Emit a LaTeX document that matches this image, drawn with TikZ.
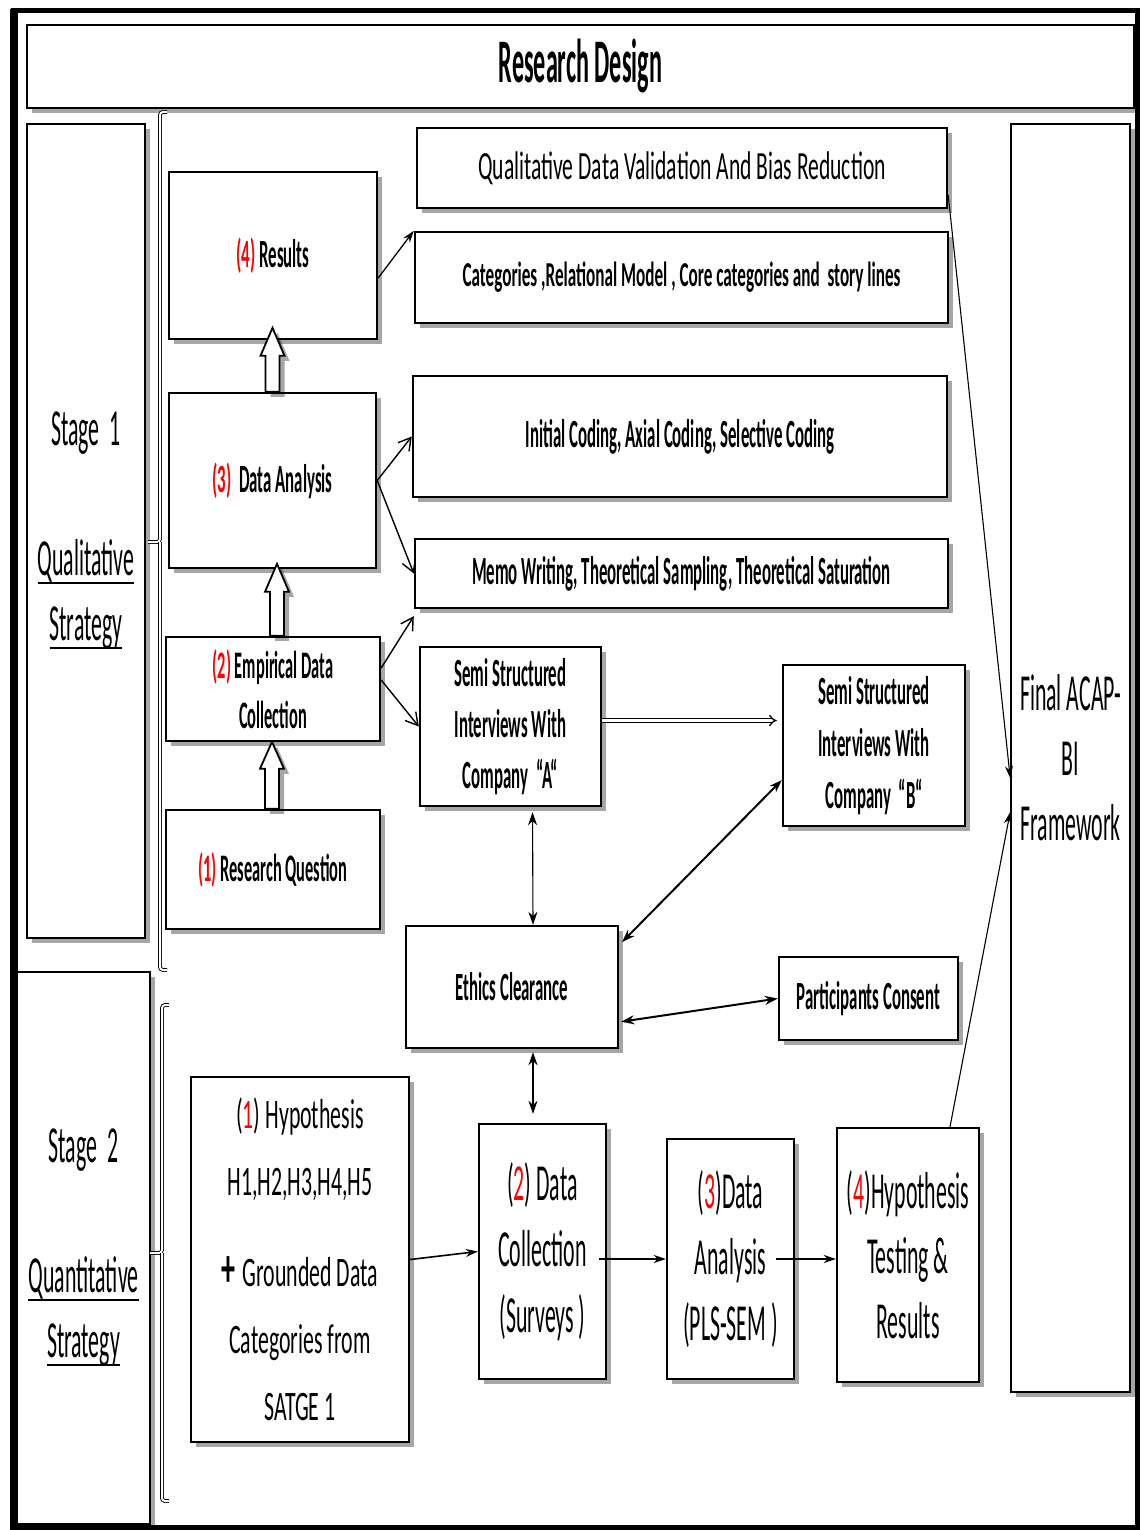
\documentclass[tikz,border=0pt]{standalone}
\usepackage{fontspec}
\setmainfont{Carlito}
\newfontfamily\fA[FakeStretch=0.42]{Carlito}
\newfontfamily\fB[FakeStretch=0.39]{Carlito}
\newfontfamily\fC[FakeStretch=0.54]{Carlito}
\newfontfamily\fD[FakeStretch=0.49]{Carlito}
\newfontfamily\fE[FakeStretch=0.52]{Carlito}
\usetikzlibrary{arrows.meta,shadows,calc}
\newcommand\sz[2]{\fontsize{#1}{#2}\selectfont}
\newsavebox\ulbox
\newcommand\myul[1]{\sbox\ulbox{#1}\leavevmode\rlap{\rule[-8pt]{\wd\ulbox}{2pt}}\usebox\ulbox}
\newcommand\rd[1]{\textcolor{red}{#1}}
\begin{document}
\begin{tikzpicture}[x=1pt,y=-1pt,
  shd/.style={drop shadow={shadow xshift=5pt,shadow yshift=-5pt,opacity=0.35,fill=black}},
  bx/.style={draw,line width=2.4pt,fill=white,inner sep=0pt,align=center,shd},
  blk/.style={draw,line width=1.8pt,fill=white,shd},
  opn/.style={line width=1.4pt,-{Straight Barb[length=12pt,width=14pt,line width=1.4pt]}},
  fil/.style={line width=1.3pt,-{Stealth[length=12pt,width=8pt]}},
  bfil/.style={line width=1.4pt,{Stealth[length=13pt,width=9pt]}-{Stealth[length=13pt,width=9pt]}},
  brc/.style={line width=0.9pt,double=white,double distance=2pt,rounded corners=3pt}]
\useasboundingbox (0,0) rectangle (1141,1530);
\fill[white] (0,0) rectangle (1141,1530);
% outer frame
\draw[line width=5pt] (13,11) rectangle (1137,1527);
\draw[line width=8pt] (14,9) -- (14,1530);

% title
\node[bx,minimum width=1107,minimum height=83,font=\fB\bfseries\sz{62}{62}] (title) at (580.5,66.5) {Research Design};

% stage boxes
\node[bx,line width=2pt,minimum width=118,minimum height=814,font=\fA\sz{52}{65}] (st1) at (86,531)
  {\rule{0pt}{6pt}Stage\ \ 1\\[65pt]\myul{Qualitative}\\\myul{Strategy}};
\node[bx,line width=2pt,minimum width=133,minimum height=552,font=\fA\sz{52}{65}] (st2) at (83.5,1248)
  {\rule{0pt}{6pt}Stage\ \ 2\\[65pt]\myul{Quantitative}\\\myul{Strategy}};
\node[bx,line width=1.6pt,minimum width=119,minimum height=1268,font=\fA\sz{52}{65}] (fin) at (1070.5,758)
  {Final ACAP-\\BI\\Framework};

% braces
\draw[brc] (167,112) -- (160,112) -- (160,542) -- (148,542);
\draw[brc] (160,542) -- (160,970) -- (167,970);
\draw[brc] (169,1005) -- (162,1005) -- (162,1253) -- (150,1253);
\draw[brc] (162,1253) -- (162,1501) -- (169,1501);

% stage 1 left column
\node[bx,minimum width=208,minimum height=167,font=\fA\bfseries\sz{40}{50}] (res) at (273,255.5) {\rd{(4)} Results};
\node[bx,minimum width=207,minimum height=175,font=\fA\bfseries\sz{40}{50}] (da) at (272.5,480.5) {\rd{(3)}\ \ Data Analysis};
\node[bx,minimum width=214,minimum height=104,font=\fA\bfseries\sz{39}{50}] (edc) at (273,689) {\rd{(2)} Empirical Data\\Collection};
\node[bx,minimum width=214,minimum height=119,font=\fA\bfseries\sz{39}{50}] (rq) at (273,869.5) {\rd{(1)} Research Question};

% stage 1 right boxes
\node[bx,minimum width=530,minimum height=80,font=\fC\sz{40}{40}] (qdv) at (682,168) {Qualitative Data Validation And Bias Reduction};
\node[bx,minimum width=533,minimum height=91,font=\fD\bfseries\sz{35}{40}] (cat) at (681.5,277.5) {Categories ,Relational Model , Core categories and\ \ story lines};
\node[bx,minimum width=534,minimum height=121,font=\fA\bfseries\sz{40}{40}] (ic) at (680,436.5) {Initial Coding, Axial Coding, Selective Coding};
\node[bx,minimum width=533,minimum height=69,font=\fA\bfseries\sz{40}{40}] (memo) at (681.5,573.5) {Memo Writing, Theoretical Sampling, Theoretical Saturation};
\node[bx,minimum width=181,minimum height=159,font=\fA\bfseries\sz{40}{51}] (sa) at (510.5,726.5) {Semi Structured\\Interviews With\\Company\ \ “A“};
\node[bx,minimum width=182,minimum height=161,font=\fA\bfseries\sz{40}{52}] (sb) at (874,745.5) {Semi Structured\\Interviews With\\Company\ \ “B“};
\node[bx,minimum width=212,minimum height=122,font=\fA\bfseries\sz{40}{50}] (eth) at (512,987) {Ethics Clearance};
\node[bx,minimum width=179,minimum height=83,font=\fA\bfseries\sz{40}{50}] (pc) at (868.5,998.5) {Participants Consent};

% stage 2 boxes
\node[bx,minimum width=218,minimum height=365,font=\fE\sz{42}{67}] (hyp) at (300,1259.5)
  {(\rd{1}) Hypothesis\\H1,H2,H3,H4,H5\\[24pt]{\bfseries\sz{54}{67}+}\,Grounded Data\\Categories from\\SATGE 1};
\node[bx,minimum width=127,minimum height=255,font=\fA\sz{52}{66}] (dc) at (542.5,1251.5) {(\rd{2}) Data\\Collection\\(Surveys\ )};
\node[bx,minimum width=127,minimum height=240,font=\fA\sz{52}{66}] (da2) at (730.5,1259) {(\rd{3})Data\\Analysis\\(PLS-SEM\ )};
\node[bx,minimum width=142,minimum height=254,font=\fA\sz{52}{65}] (ht) at (908,1255) {(\rd{4})Hypothesis\\Testing \&\\Results};

% hollow block arrows
\draw[blk] ([xshift=-7pt]da.north) -- ++(0,-36) -- ++(-5,0) -- ++(12,-28) -- ++(12,28) -- ++(-5,0) -- ++(0,36) -- cycle;
\draw[blk] ([xshift=-3pt]edc.north) -- ++(0,-44) -- ++(-5,0) -- ++(12,-28) -- ++(12,28) -- ++(-5,0) -- ++(0,44) -- cycle;
\draw[blk] ([xshift=-8pt]rq.north) -- ++(0,-40) -- ++(-5,0) -- ++(12,-27) -- ++(12,27) -- ++(-5,0) -- ++(0,40) -- cycle;

% connectors
\coordinate (m1) at ([yshift=-7pt]memo.south west);
\draw[fil] ([yshift=-22.5pt]res.east) -- (cat.north west);
\draw[opn] (da.east) -- (ic.west);
\draw[opn] (da.east) -- (memo.west);
\draw[opn] ([yshift=21pt]edc.east) -- (m1);
\draw[opn] ([yshift=9pt]edc.east) -- (sa.west);
\draw[line width=1.3pt,double=white,double distance=2.5pt,-{Implies},shorten >=5pt] ([yshift=6pt]sa.east) -- ([yshift=25pt]sb.west);
\draw[bfil,line width=1.1pt,shorten <=5pt] ([xshift=22pt]sa.south) -- ([xshift=21pt]eth.north);
\draw[bfil,line width=2pt,shorten <=4pt] ([yshift=42pt]eth.east) -- ([yshift=-34.5pt]sb.west);
\draw[bfil,line width=2pt,shorten <=2pt] ([yshift=-35pt]eth.east) -- (pc.west);
\draw[bfil,line width=1.1pt,shorten <=3pt,shorten >=9pt] ([xshift=21pt]eth.south) -- ([xshift=-9.5pt]dc.north);
\draw[fil,line width=1.6pt] (hyp.east) -- (dc.west);
\draw[fil,line width=1.8pt] ([xshift=-8pt,yshift=-7.5pt]dc.east) -- (da2.west);
\draw[fil,line width=1.8pt] ([xshift=-19pt]da2.east) -- ([yshift=-4pt]ht.west);
\draw[fil,line width=1.1pt] ([yshift=-27pt]qdv.east) -- ([yshift=-20pt]fin.west);
\draw[fil,line width=1.1pt] ([xshift=42pt]ht.north) -- ([yshift=-54pt]fin.west);
\end{tikzpicture}
\end{document}
